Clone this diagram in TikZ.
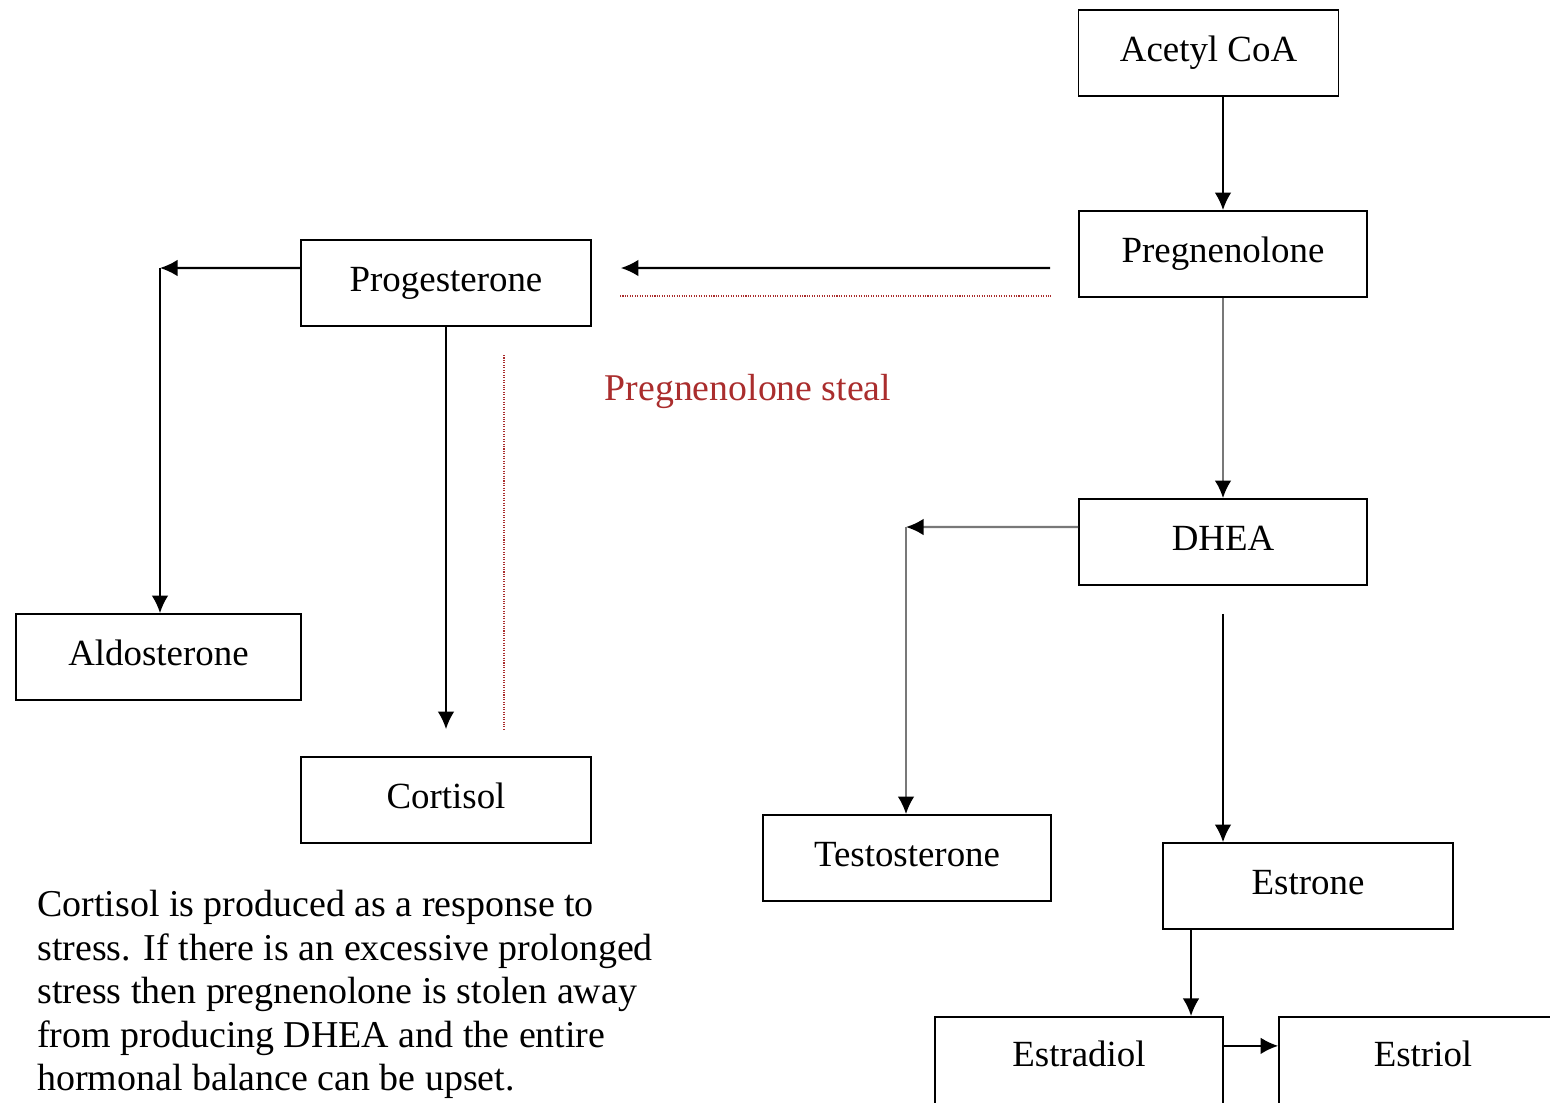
\documentclass[tikz,border=0pt]{standalone}
\usepackage{fontspec}
\setmainfont{Liberation Serif}
\usetikzlibrary{arrows.meta, positioning}
\definecolor{stealred}{RGB}{170, 45, 45}
\definecolor{linegray}{RGB}{120, 120, 120}

\begin{document}
\begin{tikzpicture}[
    x=0.02cm, y=-0.02cm,
    every node/.style={font=\fontsize{21}{25}\selectfont},
    hormone/.style={rectangle, draw=black, line width=1pt, fill=white, minimum width=5.8cm, minimum height=1.72cm, inner sep=0pt, text height=0.5cm, text depth=0.16cm},
    cutbox/.style={hormone, anchor=north, minimum height=2cm, text depth=0.5cm},
    arrow/.style={-{Latex[length=10pt,width=9.5pt]}, line width=1.15pt, black},
    grayarrow/.style={-{Latex[length=10pt,width=9.5pt,color=black]}, line width=1.3pt, linegray},
    stealline/.style={stealred, line width=1pt, dash pattern=on 0.6pt off 0.8pt}
]
    \useasboundingbox[fill=white] (0,0) rectangle (1550,1102);

    % Nodes
    \node[hormone, minimum width=5.2cm] (acetyl) at (1208.5,53) {Acetyl CoA};
    \node[hormone, minimum width=5.76cm] (pregnenolone) at (1223,254) {Pregnenolone};
    \node[hormone] (progesterone) at (446,283) {Progesterone};
    \node[hormone, minimum width=5.7cm] (aldosterone) at (158.5,657) {Aldosterone};
    \node[hormone] (cortisol) at (446,800) {Cortisol};
    \node[hormone, minimum width=5.76cm] (dhea) at (1223,542) {DHEA};
    \node[hormone, minimum width=5.76cm] (testosterone) at (907,858) {Testosterone};
    \node[hormone] (estrone) at (1308,886) {Estrone};
    \node[cutbox, minimum width=5.76cm] (estradiol) at (1079,1016) {Estradiol};
    \node[cutbox, minimum width=5.76cm] (estriol) at (1423,1016) {Estriol};

    \node[text=stealred, font=\fontsize{21.5}{25}\selectfont] (steallabel) at (748,391) {Pregnenolone steal};
    \node[anchor=north west, align=left, inner sep=0pt, font=\fontsize{21.6}{24.8}\selectfont] (note) at (37,890)
        {Cortisol is produced as a response to\\
         stress. If there is an excessive prolonged\\
         stress then pregnenolone is stolen away\\
         from producing DHEA and the entire\\
         hormonal balance can be upset.};

    \coordinate (aldocorner) at (160,268);
    \coordinate (testocorner) at (906,527);
    \coordinate (stealh1) at (620,296);
    \coordinate (stealh2) at (1051,296);
    \coordinate (stealv1) at (504,355);
    \coordinate (stealv2) at (504,730);

    % Paths
    \draw[arrow] (acetyl.south -| pregnenolone.north) -- (pregnenolone.north);
    \draw[grayarrow] (pregnenolone.south) -- (dhea.north);
    \draw[arrow] ([xshift=-0.56cm, yshift=-0.28cm]pregnenolone.west) -- ([xshift=0.58cm, yshift=0.3cm]progesterone.east);
    \draw[stealline] (stealh1) -- (stealh2);
    \draw[stealline] (stealv1) -- (stealv2);
    \draw[arrow] ([yshift=0.3cm]progesterone.west) -- (aldocorner);
    \draw[arrow] (aldocorner) -- (aldocorner |- aldosterone.north);
    \draw[arrow] (progesterone.south) -- ([yshift=0.54cm]cortisol.north);
    \draw[grayarrow] ([yshift=0.3cm]dhea.west) -- (testocorner);
    \draw[grayarrow] (testocorner) -- (testocorner |- testosterone.north);
    \draw[arrow] ([yshift=-0.56cm]dhea.south) -- (dhea.south |- estrone.north);
    \draw[arrow] ([xshift=-2.34cm]estrone.south) -- ([xshift=-2.34cm]estrone.south |- estradiol.north);
    \draw[arrow] ([yshift=0.42cm]estradiol.east) -- ([yshift=0.42cm]estriol.west);
\end{tikzpicture}
\end{document}
